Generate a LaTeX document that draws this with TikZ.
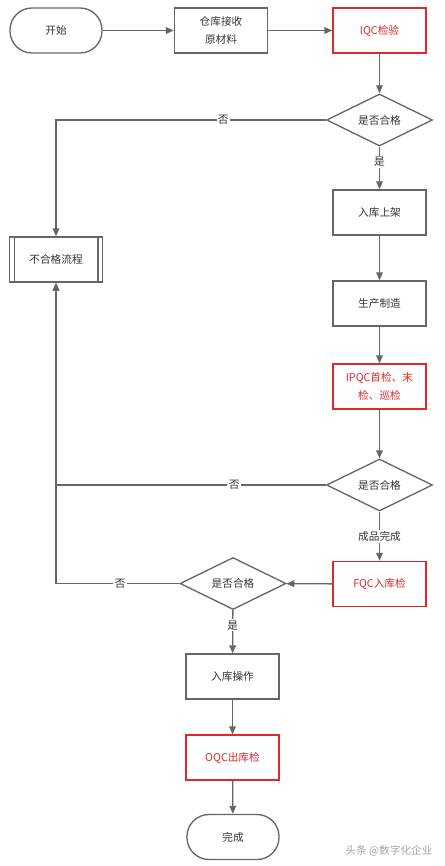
\documentclass[tikz,border=0pt]{standalone}
\usepackage{fontspec}
\newfontfamily\cjk{Noto Sans CJK SC}
\usetikzlibrary{shapes.geometric,arrows.meta}
\definecolor{ln}{HTML}{666666}
\definecolor{rd}{HTML}{E0282A}
\definecolor{tx}{HTML}{333333}
\tikzset{
  base/.style={draw=ln, line width=1pt, inner sep=0pt, font=\cjk\fontsize{8}{12}\selectfont, text=tx, align=center},
  procbox/.style={base, rectangle, minimum width=69.75pt, minimum height=33.75pt},
  redbox/.style={procbox, draw=rd, text=rd},
  termbox/.style={base, rectangle, rounded corners=16.5pt, minimum width=69pt, minimum height=33.75pt},
  decbox/.style={base, diamond, aspect=2, minimum width=79.5pt, minimum height=39pt},
  conn/.style={draw=ln, line width=1pt, -{Triangle[length=6pt,width=5pt]}},
  lbl/.style={fill=white, inner sep=1pt, font=\cjk\fontsize{8}{10}\selectfont, text=tx},
}
\begin{document}
\begin{tikzpicture}[x=0.75pt,y=-0.75pt]
\useasboundingbox (0,0) rectangle (444,866);
\node[termbox] (start) at (56,30.5) {开始};
\node[procbox] (recv) at (221,30.5) {仓库接收\\[2pt]原材料};
\node[redbox] (iqc) at (379.5,30.5) {IQC检验};
\node[decbox] (d1) at (379.5,120) {是否合格};
\node[procbox] (store) at (379.5,212.5) {入库上架};
\node[procbox] (ng) at (56,259.5) {不合格流程};
\draw[ln, line width=1pt] ([xshift=4pt]ng.north west) -- ([xshift=4pt]ng.south west);
\draw[ln, line width=1pt] ([xshift=-4pt]ng.north east) -- ([xshift=-4pt]ng.south east);
\node[procbox] (prod) at (379.5,303.5) {生产制造};
\node[redbox] (ipqc) at (379.5,386.5) {IPQC首检、末\\[2pt]检、巡检};
\node[decbox] (d2) at (379.5,485) {是否合格};
\node[redbox] (fqc) at (379.5,584) {FQC入库检};
\node[decbox] (d3) at (233,583.5) {是否合格};
\node[procbox] (ops) at (232.5,676.5) {入库操作};
\node[redbox] (oqc) at (232.5,757.5) {OQC出库检};
\node[termbox] (end) at (233,837) {完成};
\node[font=\cjk\fontsize{8}{10}\selectfont, text=black!35] (wm) at (389,851) {头条 @数字化企业};

\draw[conn] (start) -- (recv);
\draw[conn] (recv) -- (iqc);
\draw[conn] (iqc) -- (d1);
\draw[conn] (d1) -- node[lbl, pos=0.35] {是} (store);
\draw[conn] (d1.west) -| node[lbl, pos=0.19] {否} (ng.north);
\draw[conn] (store) -- (prod);
\draw[conn] (prod) -- (ipqc);
\draw[conn] (ipqc) -- (d2);
\draw[conn] (d2.west) -| node[lbl, pos=0.17] {否} (ng.south);
\draw[conn] (d2) -- node[lbl, pos=0.5] {成品完成} (fqc);
\draw[conn] (fqc) -- (d3);
\draw[conn] (d3.west) -| node[lbl, pos=0.24] {否} (ng.south);
\draw[conn] (d3) -- node[lbl, pos=0.35] {是} (ops);
\draw[conn] (ops) -- (oqc);
\draw[conn] (oqc) -- (end);
\end{tikzpicture}
\end{document}
